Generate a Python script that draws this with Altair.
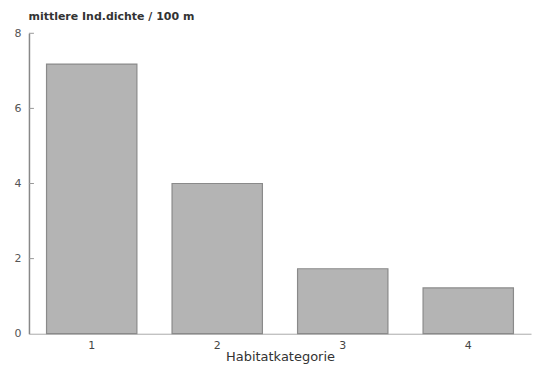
import altair as alt
import pandas as pd

categories = ["1", "2", "3", "4"]
values = [7.18, 4.0, 1.73, 1.22]
y_ticks = [2, 4, 6, 8]

df = pd.DataFrame({"Habitatkategorie": categories, "dichte": values})
tick_df = pd.DataFrame({"t": y_ticks})

yscale = alt.Scale(domain=[0, 8], nice=False)

bars = alt.Chart(df).mark_bar(
    color="#b4b4b4", stroke="#8a8a8a", strokeWidth=1.2
).encode(
    x=alt.X("Habitatkategorie:N", sort=categories,
            scale=alt.Scale(paddingInner=0.28, paddingOuter=0.14),
            axis=alt.Axis(title="Habitatkategorie", labelAngle=0, ticks=False,
                          labelPadding=6, titlePadding=0, labelFontSize=11,
                          titleFontSize=13, labelColor="#444", titleColor="#333",
                          domainColor="#aaa", titleFont="DejaVu Sans",
                          labelFont="DejaVu Sans", titleFontWeight="normal")),
    y=alt.Y("dichte:Q", scale=yscale,
            axis=alt.Axis(values=[0, 2, 4, 6, 8], title="mittlere Ind.dichte / 100 m",
                          titleAngle=0, titleAlign="left", titleX=-1, titleY=-12,
                          titleFontSize=11, titleFontWeight="bold", titleColor="#333",
                          titleFont="DejaVu Sans", labelFont="DejaVu Sans",
                          labelFontSize=11, labelColor="#555", grid=False,
                          domainColor="#888", domainWidth=1.5, ticks=False,
                          labelPadding=8)),
)

ticks = alt.Chart(tick_df).mark_rule(color="#999", strokeWidth=1).encode(
    y=alt.Y("t:Q", scale=yscale),
    x=alt.value(0),
    x2=alt.value(5),
)

chart = alt.layer(bars, ticks).properties(
    width=503, height=301,
    autosize=alt.AutoSizeParams(type="none"),
    padding={"left": 21, "top": 25, "right": 5, "bottom": 30},
).configure_view(stroke=None)

chart.save("out.html", embed_options={"renderer": "svg", "actions": False})
